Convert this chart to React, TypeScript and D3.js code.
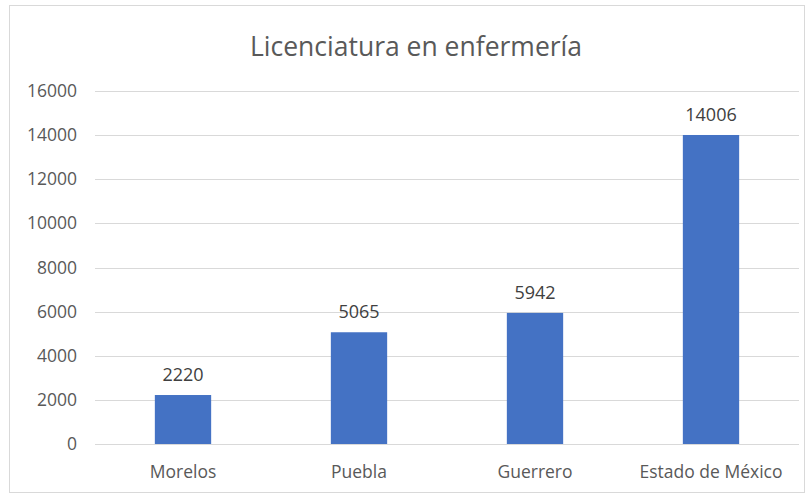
import React from "react";
import * as d3 from "d3";

const categories = ["Morelos", "Puebla", "Guerrero", "Estado de México"];
const values = [2220, 5065, 5942, 14006];
const yTicks = [0, 2000, 4000, 6000, 8000, 10000, 12000, 14000, 16000];
const title = "Licenciatura en enfermería";

export default function App() {
  const W = 811, H = 497;
  const left = 95, right = 799, top = 91, bottom = 444;
  const x = d3.scaleBand<string>().domain(categories).range([left, right]).paddingInner(0.68).paddingOuter(0.34);
  const y = d3.scaleLinear().domain([0, 16000]).range([bottom, top]);
  const font = "'Open Sans', 'Noto Sans', sans-serif";
  return (
    <svg width={W} height={H} style={{ position: "absolute", left: 0, top: 0 }}>
      <rect x={0} y={0} width={W} height={H} fill="#fff" />
      <rect x={9.5} y={5.5} width={795} height={487} fill="#fff" stroke="#d9d9d9" strokeWidth={1} />
      <text x={416} y={56} textAnchor="middle" fontFamily={font} fontSize={26.5} fill="#595959">{title}</text>
      {yTicks.map((t) => (
        <g key={t}>
          <line x1={left} x2={right} y1={Math.round(y(t)) + 0.5} y2={Math.round(y(t)) + 0.5} stroke="#d9d9d9" strokeWidth={1} />
          <text x={77} y={y(t) + 6} textAnchor="end" fontFamily={font} fontSize={17.5} fill="#595959">{t}</text>
        </g>
      ))}
      {categories.map((c, i) => (
        <g key={c}>
          <rect x={x(c)} y={y(values[i])} width={x.bandwidth()} height={y(0) - y(values[i])} fill="#4472c4" />
          <text x={x(c)! + x.bandwidth() / 2} y={y(values[i]) - 14} textAnchor="middle" fontFamily={font} fontSize={18} fill="#404040">{values[i]}</text>
          <text x={x(c)! + x.bandwidth() / 2} y={477.5} textAnchor="middle" fontFamily={font} fontSize={17.5} fill="#595959">{c}</text>
        </g>
      ))}
    </svg>
  );
}
